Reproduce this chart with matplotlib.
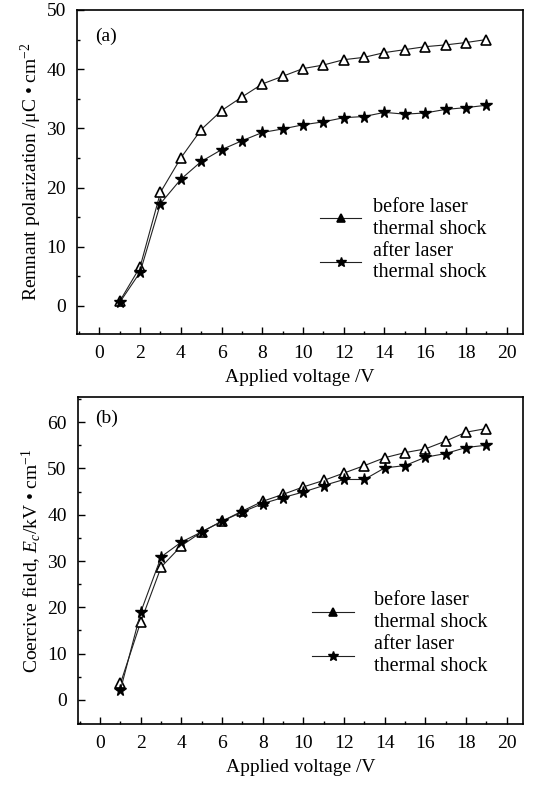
import matplotlib
matplotlib.use("Agg")
import matplotlib.pyplot as plt
from matplotlib.ticker import MultipleLocator

plt.rcParams['font.family'] = ['Liberation Serif', 'DejaVu Serif']
plt.rcParams['mathtext.fontset'] = 'custom'
plt.rcParams['mathtext.rm'] = 'Liberation Serif'
plt.rcParams['mathtext.it'] = 'Liberation Serif:italic'

voltage = [1, 2, 3, 4, 5, 6, 7, 8, 9, 10, 11, 12, 13, 14, 15, 16, 17, 18, 19]
pr_before = [0.8, 6.6, 19.2, 25.0, 29.8, 33.0, 35.3, 37.5, 38.8, 40.1, 40.7, 41.6,
             42.0, 42.8, 43.3, 43.8, 44.1, 44.5, 45.0]
pr_after = [0.6, 5.7, 17.3, 21.4, 24.4, 26.4, 27.9, 29.3, 29.9, 30.6, 31.1, 31.8,
            32.0, 32.7, 32.4, 32.6, 33.2, 33.5, 33.9]
ec_before = [3.6, 16.9, 28.7, 33.3, 36.3, 38.6, 40.8, 42.9, 44.4, 46.0, 47.4, 49.0,
             50.6, 52.3, 53.4, 54.2, 55.9, 57.8, 58.6]
ec_after = [2.2, 19.0, 30.9, 34.1, 36.3, 38.6, 40.6, 42.4, 43.7, 44.9, 46.3, 47.6,
            47.6, 50.1, 50.6, 52.4, 53.2, 54.5, 55.0]
series_labels = ['before laser\nthermal shock', 'after laser\nthermal shock']
xticks = [0, 2, 4, 6, 8, 10, 12, 14, 16, 18, 20]

FS = 14
fig = plt.figure(figsize=(5.33, 7.87), dpi=100)
ax1 = fig.add_axes([0.1445, 0.5756, 0.8365, 0.4117])
ax2 = fig.add_axes([0.146, 0.080, 0.835, 0.4155])

def style(ax, ylim, ymajor, yminor):
    ax.set_xlim(-1.1, 20.8)
    ax.set_ylim(*ylim)
    ax.set_xticks(xticks)
    ax.xaxis.set_minor_locator(MultipleLocator(1))
    ax.yaxis.set_major_locator(MultipleLocator(ymajor))
    ax.yaxis.set_minor_locator(MultipleLocator(yminor))
    ax.tick_params(which='both', direction='in', top=False, right=False,
                   labelsize=FS, width=1.0, color='black', pad=8)
    ax.tick_params(which='major', length=5)
    ax.tick_params(which='minor', length=2.5)
    for s in ax.spines.values():
        s.set_linewidth(1.2)
    ax.set_xlabel('Applied voltage /V', fontsize=FS, labelpad=5)

lkw = dict(color='#222222', lw=0.8)
tri = dict(marker='^', markersize=6.5, markerfacecolor='white', markeredgecolor='black', markeredgewidth=1.2)
star = dict(marker='*', markersize=8.5, markerfacecolor='black', markeredgecolor='black')

def fix_legend(leg):
    h = leg.legend_handles
    h[0].set_markerfacecolor('black')
    h[0].set_markersize(5.5)
    h[1].set_markersize(7)

ax1.plot(voltage, pr_before, label=series_labels[0], **lkw, **tri)
ax1.plot(voltage, pr_after, label=series_labels[1], **lkw, **star)
style(ax1, (-4.75, 50), 10, 5)
ax1.set_ylabel('Remnant polarization /μC • cm$^{-2}$', fontsize=FS, labelpad=2)
ax1.text(0.04, 0.945, '(a)', transform=ax1.transAxes, fontsize=FS, va='top')
leg1 = ax1.legend(loc='upper left', bbox_to_anchor=(0.527, 0.445), frameon=False, fontsize=14.5,
                  handlelength=2.05, handletextpad=0.6, labelspacing=0.15, borderaxespad=0)
fix_legend(leg1)

ax2.plot(voltage, ec_before, label=series_labels[0], **lkw, **tri)
ax2.plot(voltage, ec_after, label=series_labels[1], **lkw, **star)
style(ax2, (-5.2, 65.4), 10, 5)
ax2.set_ylabel('Coercive field, $E_c$/kV • cm$^{-1}$', fontsize=FS, labelpad=2)
ax2.text(0.04, 0.96, '(b)', transform=ax2.transAxes, fontsize=FS, va='top')
leg2 = ax2.legend(loc='upper left', bbox_to_anchor=(0.508, 0.43), frameon=False, fontsize=14.5,
                  handlelength=2.1, handletextpad=1.0, labelspacing=0.15, borderaxespad=0)
fix_legend(leg2)

fig.savefig('out.png', dpi=100)
